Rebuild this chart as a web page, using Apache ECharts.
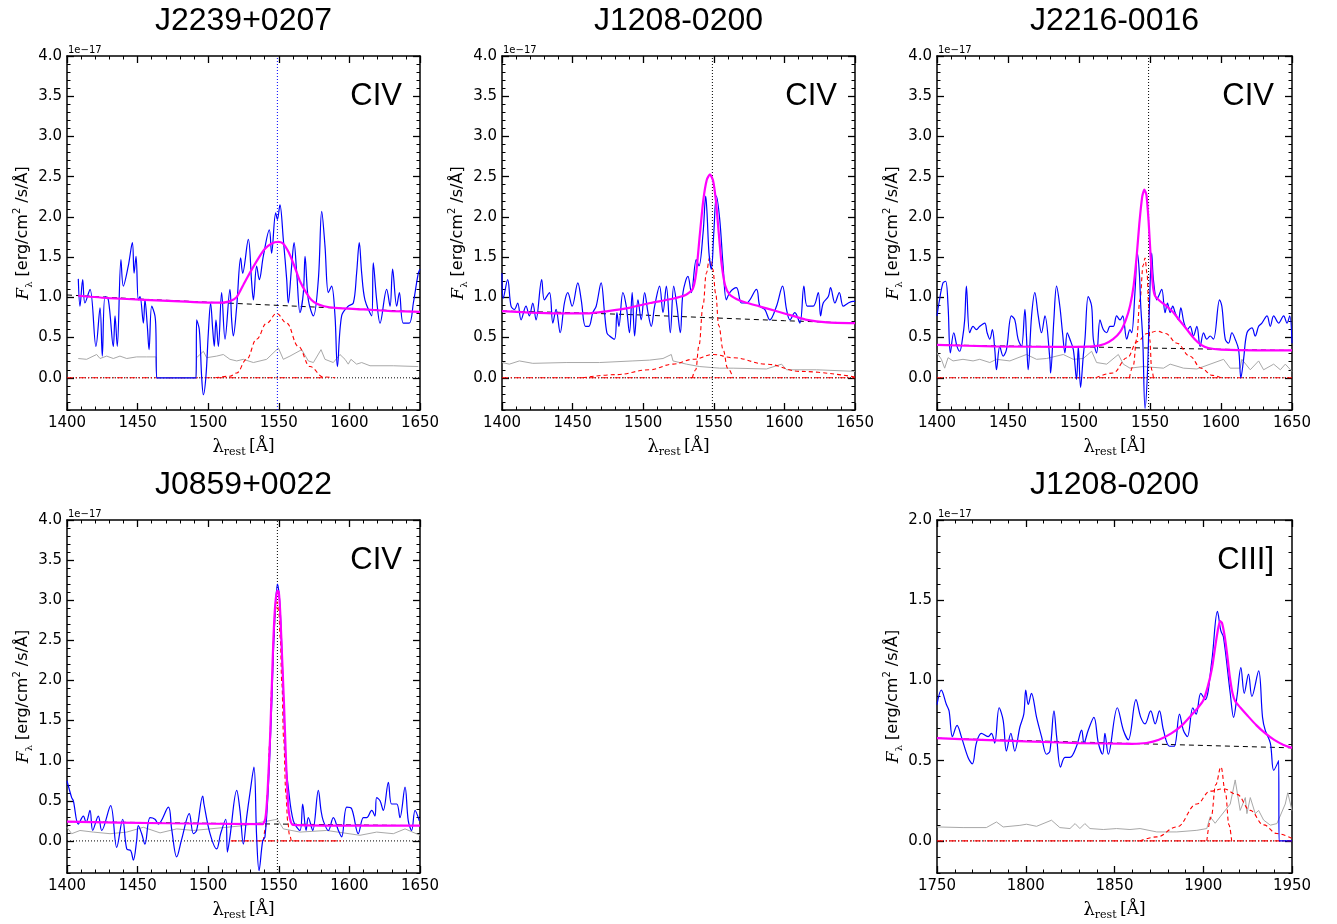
<!DOCTYPE html>
<html><head><meta charset="utf-8">
<script src="https://cdn.jsdelivr.net/npm/echarts@6/dist/echarts.min.js"></script>
<style>html,body{margin:0;padding:0;background:#fff}#c{width:1337px;height:924px}</style>
</head><body><div id="c"></div>
<script>
// ---------------- DATA ----------------
const panelTitles = ['J2239+0207','J1208-0200','J2216-0016','J0859+0022','J1208-0200'];
const lineLabels = ['CIV','CIV','CIV','CIV','CIII]'];
const xRanges = [[1400,1650],[1400,1650],[1400,1650],[1400,1650],[1750,1950]];
const yRanges = [[-0.4,4.0],[-0.4,4.0],[-0.4,4.0],[-0.4,4.0],[-0.2,2.0]];
const yMajorTicksCIV = [0,0.5,1.0,1.5,2.0,2.5,3.0,3.5,4.0];
const yMajorTicksCIII = [0,0.5,1.0,1.5,2.0];
const lineCenters = [1549,1549,1549,1549,null];
const zeroDashDotRanges = [[1400,1582],[1400,1650],[1400,1650],[1516,1596],[1750,1950]];

// Panel 1: J2239+0207
const p1Spectrum = [[1408,1.23],[1409.2,0.89],[1411.1,1.22],[1412.7,0.93],[1416.3,1.10],[1420.5,0.39],[1423.4,0.87],[1425,0.27],[1426.9,1.01],[1429.3,0.97],[1432.8,0.39],[1434,0.77],[1435.6,0.39],[1438.2,1.47],[1439.9,1.14],[1443.4,1.39],[1446.3,1.68],[1447.5,1.30],[1448.9,1.51],[1450.5,0.97],[1451.7,1.01],[1454.1,0.68],[1455.2,0.97],[1456.9,0.64],[1458.1,0.35],[1460,0.89],[1462.3,0.77],[1463,0.56],[1463.5,0],[1491.4,0],[1491.8,0.72],[1493.7,0.60],[1495.4,0],[1496.6,-0.21],[1498.4,0.02],[1500.1,0.56],[1501.7,0.93],[1503.2,0.60],[1504.3,0.39],[1505.5,0.72],[1507.2,0.39],[1509.5,1.06],[1511.9,0.48],[1515.4,1.10],[1516.6,0.72],[1517.8,0.52],[1520.2,0.89],[1523,1.49],[1524.4,1.30],[1528.4,1.72],[1530.8,1.18],[1532,0.97],[1534.3,1.39],[1536.2,1.22],[1539,1.51],[1543.3,1.84],[1544.9,1.55],[1547.8,2.05],[1549,1.97],[1550.8,2.15],[1553.2,1.72],[1555.6,1.22],[1556.7,0.93],[1559.1,1.39],[1560.8,1.68],[1562.7,1.30],[1565,0.81],[1567.4,1.06],[1568.6,1.51],[1570.9,0.97],[1574.5,0.77],[1578,1.22],[1580.4,2.07],[1582.7,1.64],[1585.1,1.06],[1587.4,1.14],[1589.8,0.77],[1591.5,0.14],[1594.5,0.77],[1599.2,0.89],[1602.8,0.93],[1605.1,1.30],[1607,1.68],[1608.7,1.30],[1611,0.97],[1615.8,0.77],[1616.9,1.43],[1619.3,0.97],[1621.7,0.68],[1626.4,1.10],[1628.8,0.89],[1630.6,1.35],[1633.5,0.89],[1635.4,1.06],[1638.2,0.68],[1642.4,0.68],[1645.3,0.93],[1648.8,1.30],[1650,1.35]];
const p1Error = [[1408,0.24],[1413.9,0.23],[1421,0.29],[1423.4,0.24],[1428.1,0.27],[1432.8,0.24],[1437.5,0.27],[1442.3,0.24],[1449.3,0.26],[1456.4,0.26],[1463,0.26],[1463.5,0],[1491.4,0],[1491.8,0.25],[1496.6,0.33],[1498.9,0.25],[1506,0.27],[1510.7,0.29],[1515.4,0.23],[1520.2,0.21],[1524.9,0.23],[1532,0.19],[1541.4,0.23],[1549.7,0.37],[1553.2,0.23],[1557.9,0.27],[1566.2,0.35],[1570.9,0.21],[1574.5,0.19],[1579.9,0.35],[1582.7,0.23],[1588.6,0.19],[1593.3,0.29],[1596.9,0.23],[1599.2,0.17],[1601.1,0.23],[1605.1,0.17],[1608.7,0.19],[1614.6,0.15],[1631.1,0.15],[1648.8,0.14]];
const p1Fit = [[1408,1.02],[1430,0.99],[1455,0.97],[1480,0.95],[1500,0.935],[1510,0.935],[1515,0.95],[1520,1.00],[1525,1.16],[1530,1.32],[1535,1.47],[1540,1.60],[1545,1.67],[1549.5,1.69],[1553,1.67],[1557,1.56],[1561,1.39],[1565,1.20],[1569,1.07],[1573,0.97],[1577,0.92],[1582,0.89],[1590,0.87],[1610,0.85],[1630,0.83],[1650,0.82]];
const p1Continuum = [[1400,1.03],[1450,0.98],[1500,0.94],[1550,0.90],[1600,0.86],[1650,0.82]];
const p1Components = [
  [[1505,0],[1515.4,0.02],[1520.2,0.06],[1527.2,0.23],[1534.3,0.48],[1541.4,0.68],[1548.5,0.80],[1555.6,0.68],[1563.8,0.39],[1572.1,0.14],[1581.5,0.01],[1590,0]]
];

// Panel 2: J1208-0200 (CIV)
const p2Spectrum = [[1400,1.30],[1400.9,0.99],[1404,1.22],[1406.4,0.89],[1408.8,0.85],[1411.1,0.93],[1413.5,0.72],[1417,0.89],[1419.4,0.77],[1421.8,0.93],[1424.1,0.72],[1428.1,1.22],[1430,0.97],[1433.6,1.06],[1436,0.68],[1438.3,0.85],[1441.2,0.56],[1444.2,0.93],[1446.6,1.06],[1449.7,0.89],[1453.7,1.18],[1456.1,0.97],[1459.1,0.64],[1461.5,0.64],[1464.3,0.81],[1466.7,0.89],[1470.2,1.18],[1472.6,0.81],[1474.3,0.56],[1476.2,0.52],[1479.7,0.48],[1481.4,0.81],[1482.8,0.64],[1485.6,1.06],[1488,0.89],[1490.3,0.56],[1492.2,1.06],[1493.9,0.52],[1496.3,0.97],[1498.6,0.72],[1501,1.06],[1503.4,0.81],[1505.7,0.64],[1508.1,0.89],[1511.6,1.14],[1514,0.81],[1516.4,1.14],[1519.2,0.56],[1521.6,1.14],[1523.9,0.89],[1526.3,0.56],[1528.2,1.06],[1531.7,1.26],[1534.1,1.06],[1537.6,1.47],[1539.5,1.39],[1542.4,1.80],[1544.3,2.26],[1545.2,2.05],[1546.6,1.55],[1548.3,1.35],[1550,1.80],[1551.8,2.26],[1554.2,1.97],[1556.6,1.39],[1558.9,0.97],[1561.3,1.06],[1566,1.12],[1569.6,0.93],[1573.1,0.93],[1580.2,1.10],[1582.6,0.89],[1586.1,0.85],[1589.7,0.72],[1594.4,0.89],[1598.7,1.14],[1601.5,0.85],[1603.9,0.72],[1607.4,0.81],[1611,0.68],[1613.8,1.14],[1616.2,0.89],[1620.4,0.89],[1624,1.06],[1625.6,0.77],[1627.5,0.93],[1631.1,1.01],[1632.7,1.12],[1635.8,0.93],[1638.9,1.06],[1641.7,0.89],[1645.3,0.93],[1648.8,0.95],[1650,0.95]];
const p2Error = [[1400,0.19],[1405.2,0.17],[1412.3,0.21],[1421.8,0.18],[1445.4,0.19],[1469.1,0.19],[1492.7,0.21],[1504.5,0.22],[1514,0.24],[1519.9,0.29],[1521.1,0.21],[1530.6,0.17],[1540,0.14],[1554.2,0.12],[1563.7,0.12],[1587.3,0.11],[1598,0.17],[1601.5,0.10],[1622.8,0.10],[1650,0.08]];
const p2Fit = [[1400,0.83],[1420,0.81],[1440,0.80],[1460,0.80],[1475,0.83],[1490,0.87],[1505,0.93],[1520,0.98],[1530,1.03],[1535,1.10],[1537.5,1.30],[1540,1.76],[1542.5,2.20],[1545,2.46],[1547.3,2.53],[1549.5,2.45],[1551.5,2.20],[1553.5,1.80],[1555.5,1.42],[1558,1.15],[1561,1.04],[1566,0.98],[1572,0.94],[1582,0.89],[1594,0.83],[1606,0.77],[1616,0.72],[1630,0.69],[1650,0.68]];
const p2Continuum = [[1400,0.83],[1450,0.81],[1500,0.78],[1550,0.745],[1600,0.71],[1650,0.68]];
const p2Components = [
  [[1534.8,0],[1537.2,0.10],[1539.5,0.40],[1542.4,0.90],[1544.7,1.30],[1547,1.49],[1549.3,1.35],[1551.3,1.05],[1553.5,0.65],[1556.6,0.35],[1559.8,0.12],[1563.6,0]],
  [[1457.2,0],[1480.9,0.04],[1504.5,0.10],[1521.1,0.17],[1535.3,0.23],[1549.5,0.29],[1563.7,0.25],[1587.3,0.17],[1611,0.08],[1650,0.01]]
];

// Panel 3: J2216-0016
const p3Spectrum = [[1400,0.77],[1401.4,0.93],[1404.2,1.18],[1406.1,1.20],[1407.8,0.89],[1409.4,0.31],[1411.8,0.56],[1414.1,0.39],[1416,0.33],[1417.9,0.48],[1419.5,0.72],[1420.7,1.14],[1423,0.56],[1425.4,0.64],[1427.8,0.60],[1430.1,0.64],[1433.6,0.68],[1435.3,0.56],[1437.2,0.48],[1439,0.60],[1440.7,0.35],[1441.9,0.10],[1444.2,0.39],[1446.6,0.27],[1448.9,0.35],[1452.4,0.77],[1454.8,0.72],[1457.1,0.48],[1459.5,0.39],[1461.9,0.85],[1463,0.52],[1464.2,0.10],[1466.6,0.77],[1468.9,1.06],[1471.3,0.77],[1473.6,0.56],[1476,0.77],[1479.5,0.23],[1480,0.06],[1482.3,0.72],[1484.2,1.14],[1486.5,0.89],[1488.4,0.56],[1490.1,0.31],[1491.7,0.56],[1493.6,0.48],[1496,0.35],[1498.3,-0.02],[1499.5,0.39],[1501.1,-0.12],[1503,0.27],[1504.2,0.48],[1506.5,1.01],[1508.9,0.89],[1510.1,0.48],[1512.4,0.31],[1514.8,0.72],[1517.1,0.60],[1519.5,0.56],[1521.8,0.64],[1524.2,0.64],[1526.5,0.77],[1528.9,0.72],[1530.8,0.77],[1533.6,0.48],[1535.9,0.60],[1537.1,0.56],[1539.4,1.06],[1541.1,1.55],[1542.5,1.30],[1543.5,0.89],[1544.9,0.48],[1546.5,-0.38],[1548.2,0.06],[1549.6,0.89],[1551.2,1.55],[1552.4,1.22],[1554.8,0.97],[1555.9,1.01],[1558.3,1.10],[1560.6,0.81],[1562.3,0.93],[1564.2,0.81],[1566,0.89],[1567.7,0.81],[1570,0.72],[1571.7,0.87],[1574,0.68],[1576.4,0.60],[1578.3,0.64],[1580.6,0.52],[1583,0.64],[1585.3,0.39],[1587.7,0.56],[1590,0.48],[1592.4,0.52],[1594.7,0.48],[1599,0.97],[1600.6,0.89],[1603,0.48],[1605.3,0.43],[1607.7,0.56],[1610,0.48],[1612.4,0.35],[1614,0],[1615.9,0.23],[1618.3,0.56],[1621.8,0.62],[1624.1,0.52],[1626.5,0.64],[1628.8,0.68],[1632.4,0.77],[1634.7,0.64],[1637.1,0.77],[1640.6,0.68],[1644.1,0.77],[1646.5,0.68],[1648.4,0.77],[1650,0.43]];
const p3Error = [[1400,0.31],[1403.1,0.23],[1405.4,0.12],[1407.8,0.25],[1411.3,0.21],[1418.3,0.23],[1425.4,0.21],[1430.1,0.23],[1437.2,0.19],[1441.9,0.23],[1451.3,0.21],[1463,0.29],[1470.1,0.23],[1477.1,0.24],[1488.9,0.29],[1496,0.23],[1503,0.24],[1508.9,0.33],[1512.4,0.19],[1519.5,0.17],[1527.7,0.29],[1531.2,0.17],[1535.9,0.12],[1545.3,0.14],[1559.5,0.12],[1564.2,0.17],[1573.6,0.12],[1583,0.11],[1601.8,0.23],[1606.5,0.12],[1613.5,0.12],[1614.7,0.23],[1620.6,0.10],[1626.5,0.21],[1630,0.10],[1637.1,0.17],[1641.8,0.10],[1645.3,0.17],[1650,0.08]];
const p3Fit = [[1400,0.41],[1440,0.39],[1490,0.385],[1510,0.39],[1518,0.42],[1524,0.48],[1529,0.57],[1533,0.72],[1536,0.90],[1538.5,1.15],[1540.6,1.51],[1542.5,1.92],[1544.5,2.25],[1546,2.34],[1547.5,2.27],[1549,1.95],[1550.5,1.50],[1552,1.15],[1553.5,1.02],[1556,0.97],[1561,0.90],[1566,0.82],[1571,0.71],[1576,0.60],[1581,0.49],[1586,0.41],[1591,0.37],[1600,0.35],[1625,0.34],[1650,0.34]];
const p3Continuum = [[1400,0.41],[1450,0.395],[1500,0.385],[1550,0.37],[1600,0.355],[1650,0.34]];
const p3Components = [
  [[1535.5,0],[1538.2,0.15],[1540.6,0.48],[1542.9,0.97],[1545.2,1.40],[1546.5,1.49],[1547.9,1.30],[1549.1,0.89],[1549.8,0.48],[1551.2,0.10],[1552.4,0]],
  [[1512,0],[1524,0.06],[1534,0.25],[1541,0.45],[1548,0.55],[1555,0.58],[1561,0.55],[1569,0.43],[1578,0.27],[1586,0.12],[1594,0.03],[1600,0]]
];

// Panel 4: J0859+0022
const p4Spectrum = [[1400,0.75],[1403.3,0.54],[1404.5,0.50],[1408,0.21],[1411.6,0.31],[1413.5,0.23],[1416.3,0.38],[1418.2,0.13],[1422.2,0.31],[1424.6,0.13],[1430.9,0.44],[1435.2,-0.08],[1439.4,0.27],[1442.3,-0.10],[1445.1,-0.12],[1447,-0.24],[1449.3,0.00],[1450.5,0.19],[1452.9,0.09],[1455.2,-0.04],[1458.8,0.29],[1462.3,0.27],[1464.7,0.21],[1471.8,0.42],[1474.1,0.15],[1477.7,-0.20],[1481.2,0.02],[1486.6,0.34],[1489.5,0.09],[1491.8,0.13],[1496.1,0.56],[1497,0.46],[1501.3,0.09],[1506,-0.10],[1508.8,0.09],[1512.4,0.27],[1513.6,-0.14],[1515.4,0.05],[1520.2,0.63],[1522.5,0.38],[1524.9,-0.04],[1527.2,0.29],[1529.6,0.60],[1532.4,0.92],[1534.3,0.05],[1536,-0.37],[1538.6,0.00],[1540.2,0.05],[1542.6,0.67],[1545,1.70],[1546.6,2.53],[1549,3.20],[1550.8,2.94],[1552.7,2.12],[1555.1,0.96],[1556.7,0.67],[1560.3,0.25],[1565,0.13],[1566.9,0.46],[1569.3,0.13],[1570.9,0.29],[1574,0.13],[1578,0.63],[1579.9,0.38],[1581.5,0.25],[1585.1,0.13],[1588.6,0.29],[1592.2,0.13],[1594.5,0.05],[1598.1,0.42],[1601.6,0.40],[1606.3,0.09],[1609.9,0.29],[1612.2,0.29],[1615.8,0.38],[1618.1,0.31],[1619.3,0.54],[1621.7,0.50],[1624,0.38],[1627.6,0.73],[1629.9,0.46],[1633.5,0.46],[1635.8,0.29],[1639.4,0.67],[1641.7,0.25],[1644.1,0.13],[1646.5,0.38],[1649.5,0.25]];
const p4Error = [[1400,0.17],[1403.3,0.09],[1409.2,0.13],[1418.6,0.11],[1430.5,0.09],[1442.3,0.11],[1454.1,0.17],[1465.9,0.10],[1477.7,0.15],[1489.5,0.13],[1501.3,0.15],[1513.1,0.17],[1524.9,0.19],[1536.7,0.23],[1549,0.27],[1553.2,0.15],[1565,0.11],[1583.9,0.13],[1607.5,0.07],[1619.3,0.11],[1631.1,0.09],[1639.4,0.15],[1650,0.07]];
const p4Fit = [[1400,0.24],[1470,0.22],[1538.5,0.21],[1540.5,0.28],[1542,0.60],[1543.8,1.28],[1545,1.90],[1546.2,2.53],[1547.5,2.95],[1549,3.12],[1550,3.10],[1551,2.85],[1552.3,2.30],[1553.7,1.70],[1555,1.05],[1556.6,0.46],[1558,0.27],[1560,0.20],[1606,0.19],[1650,0.19]];
const p4Continuum = [[1400,0.24],[1500,0.22],[1550,0.21],[1650,0.19]];
const p4Components = [
  [[1539.1,0],[1540.5,0.15],[1542,0.60],[1543.5,1.20],[1545,1.90],[1546.4,2.53],[1547.6,2.88],[1548.8,2.98],[1550,2.85],[1551,2.53],[1552.2,1.95],[1553.4,1.28],[1555,0.60],[1556.3,0.25],[1557.5,0.08],[1558.8,0]]
];

// Panel 6: J1208-0200 (CIII])
const p6Spectrum = [[1750,0.85],[1752.4,0.94],[1755.3,0.85],[1756.8,0.81],[1758.7,0.65],[1761.3,0.72],[1763.7,0.65],[1767.5,0.52],[1769.9,0.48],[1772.2,0.61],[1775,0.67],[1778.8,0.65],[1780.7,0.67],[1782.5,0.61],[1785,0.83],[1787.3,0.75],[1789.1,0.56],[1791.6,0.67],[1793.8,0.56],[1796.7,0.71],[1798.9,0.79],[1800,0.94],[1801.4,0.85],[1803.2,0.92],[1806.1,0.77],[1808.9,0.65],[1811.7,0.54],[1813.6,0.56],[1815.9,0.81],[1817.4,0.65],[1819.6,0.46],[1822.1,0.52],[1824.9,0.52],[1828.6,0.59],[1831.5,0.69],[1832.8,0.61],[1835.2,0.69],[1838.4,0.77],[1840.9,0.61],[1843.3,0.54],[1844.6,0.67],[1846.5,0.54],[1851.6,0.83],[1855,0.69],[1857.8,0.63],[1862.1,0.88],[1864.8,0.77],[1867.2,0.73],[1870.4,0.81],[1872.9,0.73],[1875.3,0.81],[1877.6,0.69],[1881,0.59],[1883.6,0.59],[1886.6,0.79],[1888.8,0.69],[1891.1,0.65],[1894.1,0.83],[1896,0.79],[1898.6,0.92],[1901.1,0.88],[1904.8,1.12],[1908,1.43],[1909.9,1.31],[1911.4,1.27],[1915.2,0.92],[1917.1,0.77],[1919,0.90],[1921.2,1.08],[1923.1,0.92],[1925.5,1.04],[1927.4,0.90],[1931.2,1.06],[1933.4,0.77],[1934.9,0.69],[1937.8,0.61],[1939.7,0.44],[1942.5,0.50],[1942.7,0],[1950,0]];
const p6Error = [[1750,0.087],[1764.7,0.083],[1777.8,0.083],[1783.5,0.118],[1787.3,0.087],[1796.7,0.097],[1800.4,0.104],[1806.1,0.091],[1814.5,0.129],[1819.2,0.083],[1824.9,0.077],[1827.8,0.108],[1830.5,0.077],[1833.3,0.108],[1836.2,0.077],[1843.7,0.071],[1851.2,0.077],[1858.7,0.071],[1864.4,0.077],[1873.8,0.056],[1885.1,0.056],[1896.4,0.066],[1902,0.077],[1903.9,0.15],[1906.7,0.11],[1909.5,0.15],[1915.2,0.23],[1918,0.38],[1920.8,0.19],[1923.7,0.27],[1924.6,0.17],[1926.5,0.27],[1929.3,0.17],[1931.2,0.19],[1934,0.13],[1937.8,0.098],[1941.5,0.108],[1946.2,0.23],[1947.6,0.30],[1950,0.19]];
const p6Fit = [[1750,0.64],[1775,0.63],[1800,0.62],[1830,0.61],[1860,0.605],[1868,0.61],[1875,0.63],[1882,0.67],[1888,0.72],[1893,0.78],[1897,0.83],[1900,0.875],[1902.5,0.96],[1905,1.08],[1907,1.23],[1908.5,1.33],[1909.5,1.37],[1910.5,1.36],[1912,1.28],[1913.5,1.16],[1915,1.02],[1916.5,0.92],[1918,0.87],[1921,0.83],[1925,0.78],[1930,0.72],[1935,0.67],[1940,0.63],[1945,0.60],[1950,0.58]];
const p6Continuum = [[1750,0.64],[1800,0.625],[1850,0.61],[1900,0.595],[1950,0.58]];
const p6Components = [
  [[1902,0],[1904.5,0.15],[1907,0.35],[1910,0.46],[1912.5,0.30],[1914.5,0.10],[1916,0]],
  [[1864.4,0],[1873.8,0.025],[1885.1,0.087],[1896.4,0.23],[1903.9,0.31],[1911.4,0.325],[1919,0.29],[1926.5,0.19],[1934,0.10],[1941.5,0.046],[1950,0.015]]
];

const spectra = [p1Spectrum,p2Spectrum,p3Spectrum,p4Spectrum,p6Spectrum];
const errors = [p1Error,p2Error,p3Error,p4Error,p6Error];
const fits = [p1Fit,p2Fit,p3Fit,p4Fit,p6Fit];
const continua = [p1Continuum,p2Continuum,p3Continuum,p4Continuum,p6Continuum];
const components = [p1Components,p2Components,p3Components,p4Components,p6Components];

// ---------------- LAYOUT / STYLE ----------------
const boxes = [
  {left:67, top:56, width:353, height:354},
  {left:502, top:56, width:353, height:354},
  {left:937, top:56, width:355, height:354},
  {left:67, top:520, width:353, height:353},
  {left:937, top:520, width:355, height:353}
];
const vlineColors = ['#0000ff','#000','#000','#000','#000'];
const minorYStep = 0.1;

const labelFont = {fontFamily:'DejaVu Sans', fontSize:15, color:'#000'};
const xName = '{l|λ}{s|rest} {n|[Å]}';
const xNameRich = {
  l:{fontFamily:'DejaVu Serif', fontSize:18, color:'#000', lineHeight:22, verticalAlign:'middle'},
  s:{fontFamily:'DejaVu Serif', fontSize:11, color:'#000', verticalAlign:'bottom'},
  n:{fontFamily:'DejaVu Serif', fontSize:17, color:'#000', lineHeight:22, verticalAlign:'middle'}
};
const yName = '{f|F}{s|λ}{n| [erg/cm}{p|2}{n| /s/Å]}';
const yNameRich = {
  f:{fontFamily:'DejaVu Serif', fontStyle:'italic', fontSize:17, color:'#000', lineHeight:22, verticalAlign:'middle'},
  s:{fontFamily:'DejaVu Serif', fontSize:10, color:'#000', verticalAlign:'bottom'},
  n:{fontFamily:'DejaVu Sans', fontSize:16, color:'#000', lineHeight:22, verticalAlign:'middle'},
  p:{fontFamily:'DejaVu Sans', fontSize:10, color:'#000', verticalAlign:'top'}
};

const grid=[], xAxis=[], yAxis=[], series=[], graphic=[];
boxes.forEach((b,i)=>{
  grid.push({left:b.left, top:b.top, width:b.width, height:b.height, show:false});
  const [xmin,xmax]=xRanges[i], [ymin,ymax]=yRanges[i];
  const majors = i===4 ? yMajorTicksCIII : yMajorTicksCIV;
  const xBase = {gridIndex:i, type:'value', min:xmin, max:xmax, interval:50,
    axisLine:{show:true,onZero:false,lineStyle:{color:'#000',width:1.5}},
    axisTick:{show:true,inside:true,length:7,lineStyle:{color:'#000',width:1.3}},
    minorTick:{show:true,splitNumber:5,length:3.5,lineStyle:{color:'#000',width:1}},
    splitLine:{show:false}, minorSplitLine:{show:false}};
  xAxis.push(Object.assign({}, xBase, {position:'bottom',
    axisLabel:Object.assign({show:true,margin:6,showMinLabel:true,showMaxLabel:true,hideOverlap:false,formatter:v=>String(v)}, labelFont),
    name:xName, nameLocation:'middle', nameGap:26, nameTextStyle:{rich:xNameRich}}));
  xAxis.push(Object.assign({}, xBase, {position:'top', axisLabel:{show:false}}));
  const yMajor = (pos, withLabel)=>({gridIndex:i, type:'value', min:ymin, max:ymax, position:pos,
    axisLine:{show:true,onZero:false,lineStyle:{color:'#000',width:1.5}},
    axisTick:{show:true,inside:true,length:7,customValues:majors,lineStyle:{color:'#000',width:1.3}},
    axisLabel: withLabel ? Object.assign({show:true,margin:5,customValues:majors,formatter:v=>v.toFixed(1)}, labelFont) : {show:false},
    splitLine:{show:false},
    name: withLabel ? yName : '', nameLocation:'middle', nameRotate:90, nameGap:31, nameTextStyle:{rich:yNameRich}});
  const yMinor = (pos)=>({gridIndex:i, type:'value', min:ymin, max:ymax, interval:minorYStep, position:pos,
    axisLine:{show:false}, axisTick:{show:true,inside:true,length:3.5,lineStyle:{color:'#000',width:1}},
    axisLabel:{show:false}, splitLine:{show:false}});
  yAxis.push(yMajor('left',true), yMinor('left'), yMajor('right',false), yMinor('right'));
  const xi=2*i, yi=4*i;
  const base = {type:'line', xAxisIndex:xi, yAxisIndex:yi, showSymbol:false, symbol:'none', silent:true, animation:false};
  series.push(Object.assign({}, base, {data:[[xmin,0],[xmax,0]], lineStyle:{color:'#000',width:1,type:[1,2]}, z:1}));
  const zr = zeroDashDotRanges[i];
  series.push(Object.assign({}, base, {data:[[zr[0],0],[zr[1],0]], lineStyle:{color:'#ff0000',width:1.1,type:[6,2.5,1.5,2.5]}, z:2}));
  series.push(Object.assign({}, base, {data:errors[i], lineStyle:{color:'#a8a8a8',width:1}, z:3}));
  if (lineCenters[i]!==null) {
    series.push(Object.assign({}, base, {data:[[lineCenters[i],ymin],[lineCenters[i],ymax]], lineStyle:{color:vlineColors[i],width:1,type:[1,2]}, z:4}));
  }
  series.push(Object.assign({}, base, {data:continua[i], lineStyle:{color:'#000',width:1,type:[5,4]}, z:5}));
  components[i].forEach(c=>{
    series.push(Object.assign({}, base, {data:c, smooth:0.4, smoothMonotone:'x', lineStyle:{color:'#ff0000',width:1.1,type:[4,3]}, z:6}));
  });
  series.push(Object.assign({}, base, {data:spectra[i], smooth:0.35, lineStyle:{color:'#0000ff',width:1.2}, z:7}));
  series.push(Object.assign({}, base, {data:fits[i], smooth:0.2, lineStyle:{color:'#ff00ff',width:2.2}, z:8}));

  graphic.push({type:'text', x:b.left+b.width/2, y:b.top-35, style:{text:panelTitles[i], fontFamily:'Liberation Sans', fontSize:32, fill:'#000', align:'center', verticalAlign:'middle'}});
  graphic.push({type:'text', x:b.left+b.width-18, y:b.top+40, style:{text:lineLabels[i], fontFamily:'Liberation Sans', fontSize:31, fill:'#000', align:'right', verticalAlign:'middle'}});
  graphic.push({type:'text', x:b.left+1, y:b.top-1, style:{text:'1e\u221217', fontFamily:'DejaVu Sans', fontSize:10, fill:'#000', align:'left', verticalAlign:'bottom'}});
});

const chart = echarts.init(document.getElementById('c'), null, {renderer:'canvas'});
chart.setOption({animation:false, backgroundColor:'#fff', grid, xAxis, yAxis, series, graphic});
</script></body></html>
